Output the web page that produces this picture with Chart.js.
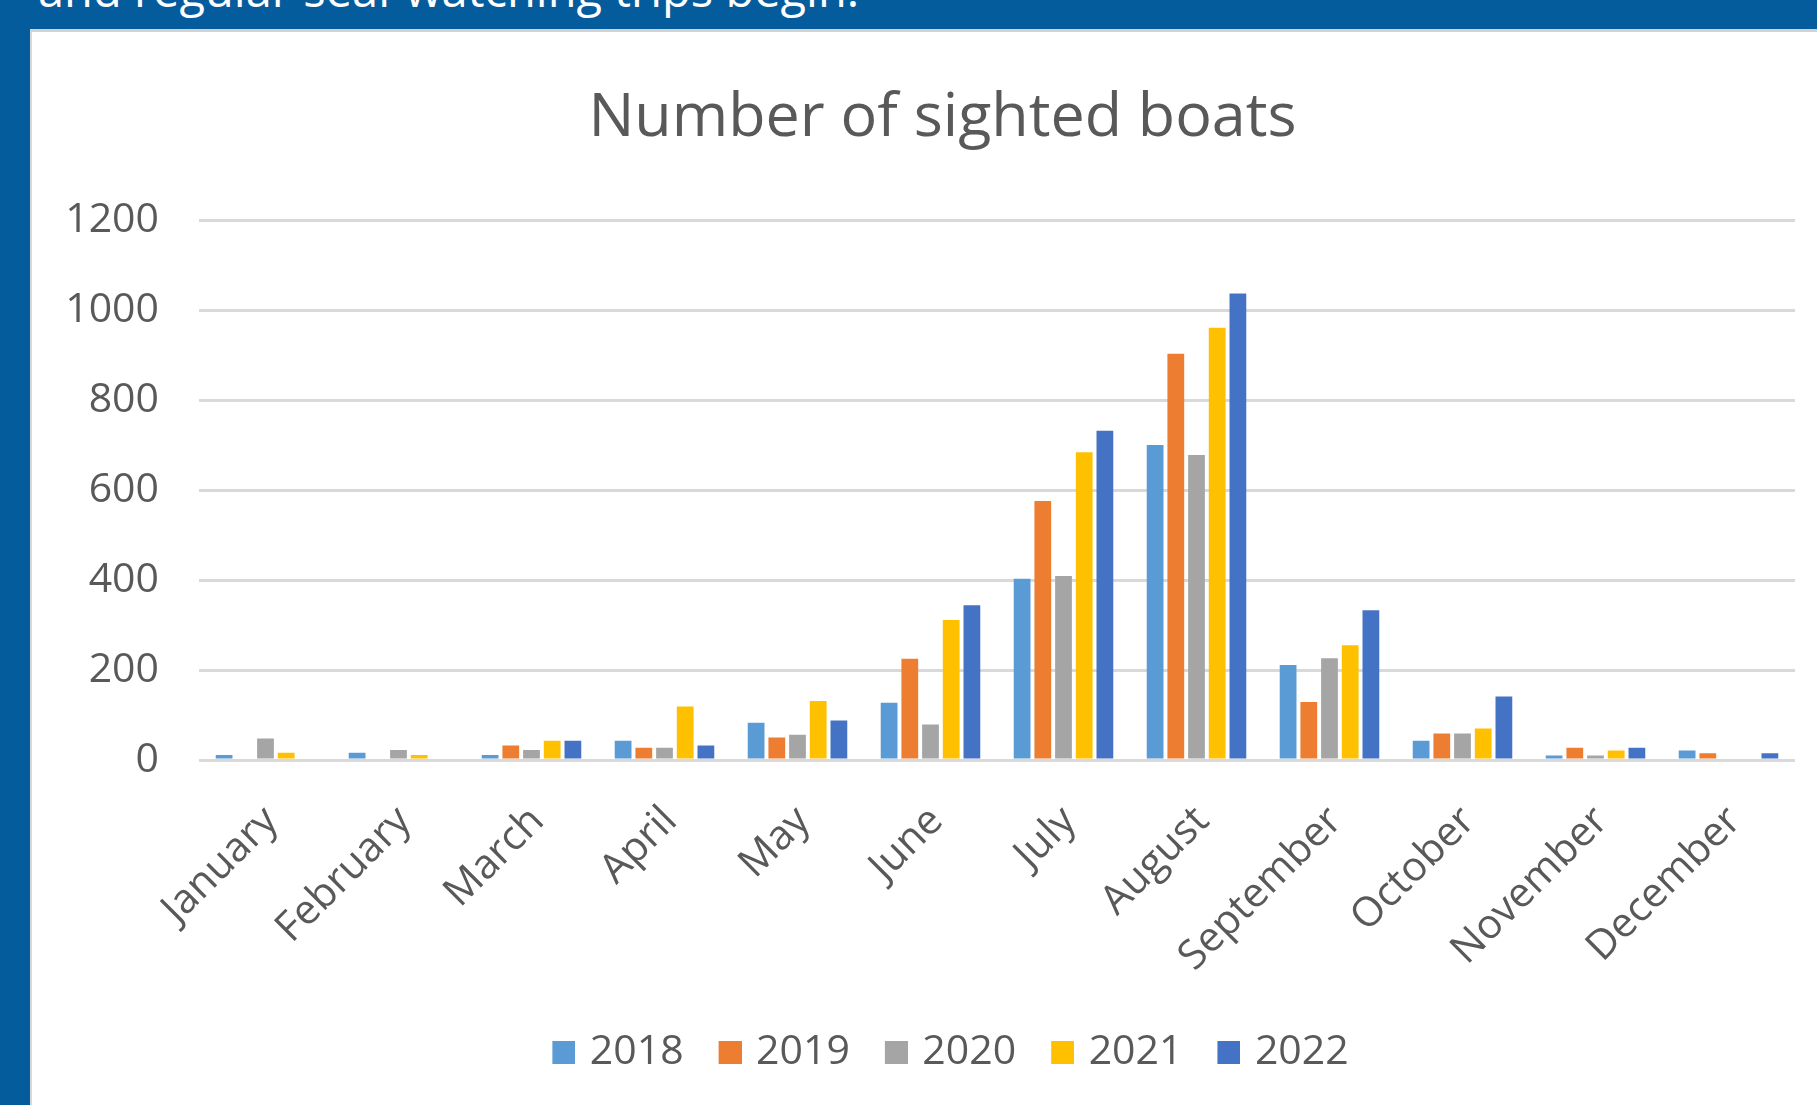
<!DOCTYPE html>
<html>
<head>
<meta charset="utf-8">
<script src="https://cdn.jsdelivr.net/npm/chart.js@4/dist/chart.umd.min.js"></script>
<style>
  html, body { margin: 0; padding: 0; }
  body { width: 1817px; height: 1105px; background: #055c9d; position: relative; overflow: hidden; font-family: "Open Sans", sans-serif; }
  #intro { position: absolute; left: 38px; top: -41px; color: #ffffff; font-size: 47px; line-height: 60px; white-space: nowrap; font-family: "Open Sans", sans-serif; }
  #panel { position: absolute; left: 30px; top: 29px; width: 1787px; height: 1076px; background: #ffffff; border-top: 3px solid #d2d2d2; border-left: 2px solid #d8d8d8; box-sizing: border-box; }
  #wrap { position: absolute; left: 30px; top: 30px; width: 1787px; height: 1075px; }
</style>
</head>
<body>
<div id="intro">and regular seal-watching trips begin.</div>
<div id="panel"></div>
<div id="wrap"><canvas id="c" width="1787" height="1075"></canvas></div>
<script>
const months = ["January", "February", "March", "April", "May", "June", "July", "August", "September", "October", "November", "December"];
const yearLabels = ["2018", "2019", "2020", "2021", "2022"];
const boats2018 = [11, 16, 11, 43, 83, 127, 403, 700, 211, 43, 10, 21];
const boats2019 = [0, 0, 32, 27, 50, 225, 576, 903, 129, 59, 27, 15];
const boats2020 = [48, 22, 22, 27, 56, 79, 409, 678, 226, 59, 10, 0];
const boats2021 = [16, 11, 43, 119, 131, 311, 684, 961, 255, 70, 21, 0];
const boats2022 = [0, 0, 43, 32, 88, 344, 732, 1037, 333, 141, 27, 15];
const yTicks = [0, 200, 400, 600, 800, 1000, 1200];
const titleText = "Number of sighted boats";

const seriesValues = [boats2018, boats2019, boats2020, boats2021, boats2022];
const colors = ["#5b9bd5", "#ed7d31", "#a5a5a5", "#ffc000", "#4472c4"];
const textColor = "#595959";
const fontFamily = "'Open Sans', sans-serif";

// legend swatches: 23px square shifted right inside a wider transparent canvas
const SW = 23, SHIFT = 6;
const swatches = colors.map(c => {
  const cv = document.createElement("canvas");
  cv.width = SW + 2 * SHIFT;
  cv.height = SW;
  const g = cv.getContext("2d");
  g.fillStyle = c;
  g.fillRect(2 * SHIFT, 0, SW, SW);
  return cv;
});

// widen the y-scale box to the left so its labels are not clipped,
// and nudge the legend slightly to the right
const layoutTweak = {
  id: "layoutTweak",
  afterLayout(chart) {
    chart.scales.y.left = 0;
    chart.legend.left += 10;
  }
};

new Chart(document.getElementById("c"), {
  type: "bar",
  data: {
    labels: months,
    datasets: yearLabels.map((y, i) => ({
      label: y,
      data: seriesValues[i],
      backgroundColor: colors[i],
      borderWidth: 0,
      categoryPercentage: 0.778,
      barPercentage: 0.81
    }))
  },
  plugins: [layoutTweak],
  options: {
    responsive: false,
    animation: false,
    devicePixelRatio: 1,
    layout: { padding: { left: 60, right: 22, top: 0, bottom: 22 } },
    plugins: {
      title: {
        display: true,
        text: titleText,
        color: textColor,
        font: { family: fontFamily, size: 61, weight: "normal", lineHeight: 1.2 },
        padding: { top: 52, bottom: 65 }
      },
      legend: {
        position: "bottom",
        labels: {
          color: textColor,
          font: { family: fontFamily, size: 41 },
          boxWidth: SW,
          boxHeight: SW,
          padding: 29,
          usePointStyle: true,
          generateLabels: (chart) => {
            const items = Chart.defaults.plugins.legend.labels.generateLabels(chart);
            items.forEach((it, i) => { it.pointStyle = swatches[i]; });
            return items;
          }
        }
      },
      tooltip: { enabled: false }
    },
    scales: {
      x: {
        grid: { display: false, drawTicks: false },
        border: { display: false },
        ticks: {
          color: textColor,
          font: { family: fontFamily, size: 41 },
          minRotation: 45,
          maxRotation: 45,
          autoSkip: false,
          padding: 37,
          labelOffset: 6
        },
        afterFit: (s) => { s.height = 243; }
      },
      y: {
        min: 0,
        max: 1200,
        afterBuildTicks: (s) => { s.ticks = yTicks.map(v => ({ value: v })); },
        grid: { color: "#d9d9d9", lineWidth: 3, drawTicks: false },
        border: { display: false },
        ticks: {
          color: textColor,
          font: { family: fontFamily, size: 41 },
          padding: 40,
          callback: (v) => String(v)
        },
        afterFit: (s) => { s.width = 109; }
      }
    }
  }
});
</script>
</body>
</html>
